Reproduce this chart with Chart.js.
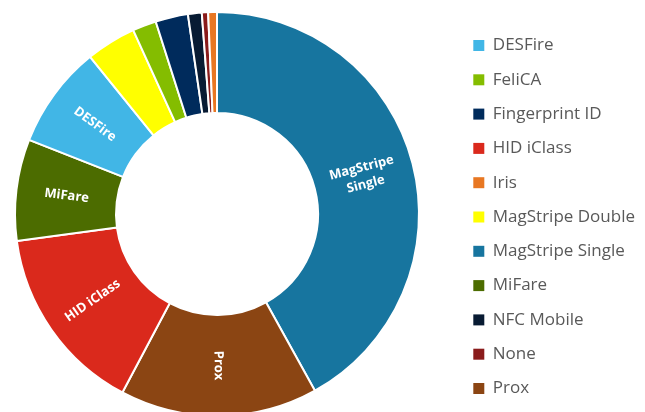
<!DOCTYPE html>
<html>
<head>
<meta charset="utf-8">
<script src="https://cdn.jsdelivr.net/npm/chart.js@4/dist/chart.umd.min.js"></script>
<style>
  html, body { margin: 0; padding: 0; background: #fff; overflow: hidden; }
  #wrap { width: 667px; height: 420px; position: relative; margin-left: -22px; }
</style>
</head>
<body>
<div id="wrap"><canvas id="readerTypes"></canvas></div>
<script>
// slices in drawing order (clockwise from 12 o'clock)
const categories = ["MagStripe Single", "Prox", "HID iClass", "MiFare", "DESFire",
    "MagStripe Double", "FeliCA", "Fingerprint ID", "NFC Mobile", "None", "Iris"];
const shares = [41.9, 15.8, 15.1, 8.1, 8.2, 4.0, 1.9, 2.6, 1.1, 0.5, 0.7];
const colors = ["#17759f", "#8b4513", "#da291c", "#4c6c00", "#41b6e6",
    "#ffff00", "#84bd00", "#002b5c", "#081b33", "#8a1b1b", "#e87722"];
const labelMinShare = 5;

// white labels drawn inside the bigger slices, turned along the radius
const sliceLabels = {
    id: "sliceLabels",
    afterDatasetsDraw(chart) {
        const ctx = chart.ctx;
        const meta = chart.getDatasetMeta(0);
        ctx.save();
        ctx.font = "bold 13px 'Open Sans'";
        ctx.fillStyle = "#fff";
        ctx.textAlign = "center";
        ctx.textBaseline = "middle";
        meta.data.forEach(function(arc, i) {
            if (shares[i] < labelMinShare) return;
            const p = arc.getProps(["x", "y", "startAngle", "endAngle", "innerRadius", "outerRadius"], true);
            const mid = (p.startAngle + p.endAngle) / 2;
            const r = (p.innerRadius + p.outerRadius) / 2;
            let rot = mid;
            while (rot > Math.PI) rot -= 2 * Math.PI;
            while (rot <= -Math.PI) rot += 2 * Math.PI;
            if (rot > Math.PI / 2) rot -= Math.PI;
            if (rot < -Math.PI / 2) rot += Math.PI;
            let lines = [categories[i]];
            if (ctx.measureText(categories[i]).width > (p.outerRadius - p.innerRadius) - 10) {
                lines = categories[i].split(" ");
            }
            ctx.save();
            ctx.translate(p.x + Math.cos(mid) * r, p.y + Math.sin(mid) * r);
            ctx.rotate(rot);
            lines.forEach(function(line, k) {
                ctx.fillText(line, 0, (k - (lines.length - 1) / 2) * 17);
            });
            ctx.restore();
        });
        ctx.restore();
    }
};

new Chart(document.getElementById("readerTypes"), {
    type: "doughnut",
    data: {
        labels: categories,
        datasets: [{
            data: shares,
            backgroundColor: colors,
            borderColor: "#fff",
            borderWidth: 2
        }]
    },
    options: {
        responsive: true,
        maintainAspectRatio: false,
        animation: false,
        cutout: "50%",
        layout: { padding: { top: 11, bottom: 3, left: 0, right: 9 } },
        plugins: {
            tooltip: { enabled: false },
            legend: {
                position: "right",
                maxWidth: 180,
                title: { display: true, text: " ", font: { size: 5 }, padding: 0 },
                labels: {
                    boxWidth: 11,
                    boxHeight: 11,
                    padding: 17.3,
                    color: "#595959",
                    font: { family: "'Open Sans'", size: 17 },
                    sort: function(a, b) { return a.text.localeCompare(b.text); },
                    generateLabels: function(chart) {
                        const items = Chart.overrides.doughnut.plugins.legend.labels.generateLabels(chart);
                        items.forEach(function(it) { it.lineWidth = 0; it.strokeStyle = it.fillStyle; });
                        return items;
                    }
                }
            }
        }
    },
    plugins: [sliceLabels]
});
</script>
</body>
</html>
